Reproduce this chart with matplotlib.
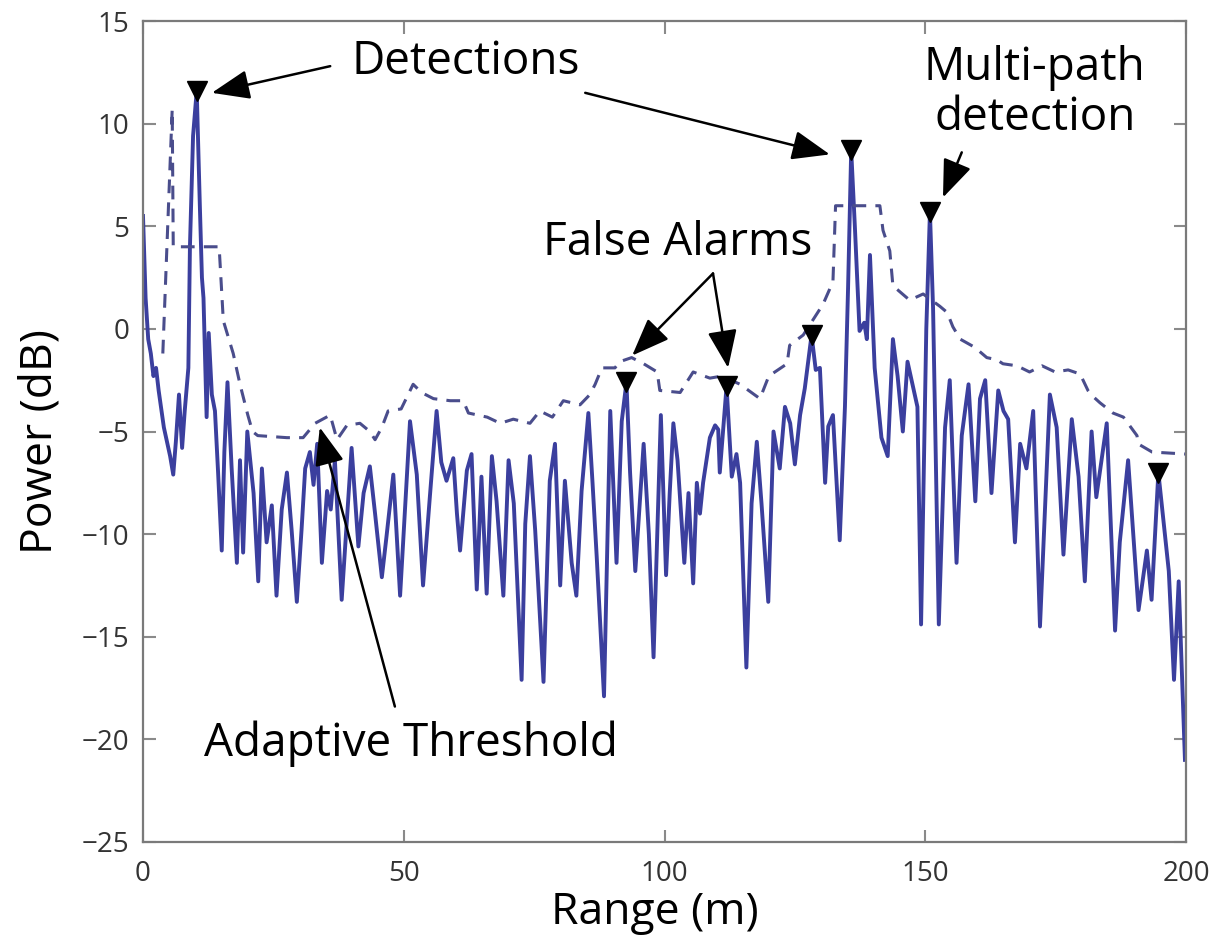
import matplotlib
matplotlib.use("Agg")
import matplotlib.pyplot as plt

# power profile (range in m, power in dB)
range_m = [0.0, 0.5, 1.0, 1.5, 2.0, 2.5, 3.0, 4.0, 5.2, 5.8, 6.3, 6.9, 7.5, 8.0,
           8.7, 9.0, 9.6, 10.3, 10.9, 11.3, 11.6, 12.2, 12.6, 13.2, 13.8, 14.4,
           15.1, 15.6, 16.2, 17.0, 18.0, 18.6, 19.2, 20.0, 20.6, 21.2, 22.1,
           22.8, 23.7, 24.7, 25.6, 26.6, 27.6, 28.5, 29.5, 30.4, 31.1, 32.0,
           32.7, 33.4, 34.3, 35.3, 36.0, 36.8, 38.1, 40.0, 41.3, 42.3, 43.5,
           44.5, 45.8, 46.7, 48.0, 49.3, 51.2, 52.5, 53.7, 55.0, 56.3, 57.2,
           58.2, 59.5, 60.2, 60.8, 62.1, 63.0, 64.0, 64.9, 65.9, 66.9, 67.8,
           69.1, 70.1, 71.1, 72.6, 73.3, 74.2, 75.2, 76.8, 78.0, 79.0, 80.0,
           80.9, 82.2, 83.1, 84.1, 85.4, 86.2, 87.0, 88.4, 89.6, 90.8, 91.8,
           92.7, 93.4, 94.4, 96.0, 97.0, 97.9, 99.3, 100.3, 101.0, 101.7,
           102.5, 103.8, 104.6, 105.5, 106.2, 106.8, 107.4, 108.7, 109.7,
           110.3, 110.6, 111.9, 112.9, 113.8, 114.5, 115.7, 116.7, 117.7,
           118.6, 119.9, 120.9, 122.1, 123.1, 124.1, 125.0, 126.0, 126.9,
           128.2, 129.0, 129.8, 130.8, 131.4, 132.3, 133.6, 134.6, 135.2,
           135.8, 136.5, 137.4, 138.3, 138.8, 139.4, 140.3, 141.6, 142.8,
           143.8, 144.7, 145.7, 146.6, 147.9, 148.5, 149.2, 150.2, 150.9,
           151.5, 152.6, 153.8, 154.7, 156.0, 157.0, 158.3, 159.6, 160.5,
           161.5, 162.7, 164.0, 165.0, 165.9, 167.2, 168.2, 169.4, 170.7,
           172.0, 173.9, 175.2, 176.5, 178.1, 179.4, 180.6, 181.9, 182.8,
           184.8, 186.4, 187.3, 188.9, 190.9, 192.5, 193.4, 194.7, 196.7,
           197.7, 198.6, 199.8]
power_db = [5.5, 1.5, -0.5, -1.2, -2.3, -1.9, -3.0, -4.8, -6.2, -7.1, -5.5, -3.2,
            -5.8, -4.0, -1.9, 4.0, 9.4, 11.6, 6.0, 2.5, 1.5, -4.3, -0.2, -3.2,
            -4.0, -7.0, -10.8, -6.0, -2.6, -6.8, -11.4, -6.4, -10.9, -5.0, -6.5,
            -8.0, -12.3, -6.8, -10.4, -8.6, -13.0, -8.8, -7.0, -9.8, -13.3, -9.8,
            -6.8, -6.0, -7.6, -5.6, -11.4, -7.9, -8.8, -6.4, -13.2, -5.8, -10.6,
            -8.0, -6.7, -9.0, -12.1, -10.1, -7.1, -13.0, -4.5, -7.1, -12.5, -8.2,
            -4.0, -6.5, -7.4, -6.3, -9.0, -10.8, -6.9, -6.1, -12.7, -7.2, -12.9,
            -6.2, -8.4, -13.0, -6.4, -8.5, -17.1, -9.5, -6.2, -9.8, -17.2, -7.4,
            -5.6, -12.5, -7.4, -11.4, -13.0, -7.9, -4.1, -7.5, -11.1, -17.9,
            -4.0, -11.4, -4.5, -2.6, -7.0, -11.8, -5.6, -10.0, -16.0, -4.2,
            -12.0, -8.0, -4.6, -6.4, -11.4, -8.0, -12.4, -7.5, -9.0, -7.5, -5.3,
            -4.7, -4.9, -7.0, -2.8, -7.2, -6.1, -7.5, -16.5, -8.5, -5.5, -8.5,
            -13.3, -5.0, -6.8, -3.8, -4.6, -6.6, -4.2, -2.9, -0.3, -2.0, -1.9,
            -7.5, -4.75, -4.2, -10.3, -3.8, 2.0, 8.7, 5.0, -0.1, 0.3, -0.5, 3.6,
            -1.9, -5.3, -6.2, -0.5, -2.3, -5.0, -1.6, -3.1, -3.8, -14.4, 0.0,
            5.7, 1.0, -14.4, -4.8, -2.5, -11.4, -5.2, -2.7, -8.4, -3.4, -2.5,
            -8.0, -3.0, -4.0, -4.4, -10.4, -5.6, -6.8, -4.0, -14.5, -3.2, -4.8,
            -11.0, -4.4, -7.2, -12.3, -5.0, -8.2, -4.6, -14.7, -10.4, -6.4,
            -13.7, -10.8, -13.2, -7.0, -11.8, -17.1, -12.3, -21.0]

# adaptive (CFAR) threshold
thr_range = [3.8, 5.6, 5.8, 14.6, 15.4, 17.3, 18.6, 20.1, 21.0, 22.0, 27.6, 30.7,
             33.0, 35.9, 37.2, 39.1, 41.6, 43.5, 44.5, 45.8, 47.0, 49.5, 51.8,
             53.4, 55.7, 58.9, 61.4, 62.4, 66.0, 68.5, 71.0, 74.2, 76.1, 78.5,
             80.6, 83.8, 85.7, 86.7, 88.0, 90.5, 91.4, 93.7, 96.0, 98.6, 99.1,
             103.0, 105.5, 108.7, 111.0, 114.5, 118.3, 120.0, 123.5, 124.0,
             126.6, 130.4, 132.3, 132.8, 141.3, 141.9, 143.2, 143.8, 147.0,
             149.6, 152.8, 154.2, 155.3, 156.7, 159.5, 161.8, 163.7, 164.9,
             167.6, 170.0, 172.4, 174.9, 177.4, 179.7, 181.2, 182.2, 183.5,
             186.0, 188.0, 190.6, 190.8, 193.5, 200.0]
thr_db = [-1.2, 10.7, 4.0, 4.0, 0.4, -1.2, -2.7, -4.2, -5.0, -5.2, -5.3, -5.3,
          -4.6, -4.2, -5.4, -4.7, -4.6, -5.0, -5.4, -4.8, -4.0, -3.9, -2.7, -3.1,
          -3.4, -3.5, -3.5, -4.1, -4.3, -4.6, -4.4, -4.6, -4.0, -4.3, -3.5, -3.7,
          -3.2, -2.7, -1.9, -1.9, -1.6, -1.4, -1.7, -2.1, -3.0, -3.1, -2.1, -2.4,
          -2.3, -2.7, -3.4, -2.3, -1.7, -0.8, -0.3, 1.2, 2.3, 6.0, 6.0, 4.8, 3.8,
          2.1, 1.4, 1.7, 1.1, 0.8, 0.1, -0.5, -0.9, -1.4, -1.5, -1.7, -1.8, -2.1,
          -1.8, -2.1, -2.0, -2.2, -3.0, -3.3, -3.6, -4.1, -4.3, -5.2, -5.6, -6.0,
          -6.1]

# detected targets
det_range = [10.3, 92.7, 111.9, 128.2, 135.8, 150.9, 194.7]
det_db = [11.6, -2.6, -2.8, -0.3, 8.7, 5.7, -7.0]

plt.rcParams["font.family"] = ["Open Sans", "DejaVu Sans"]

fig = plt.figure(figsize=(12.22, 9.4), dpi=100)
ax = fig.add_axes([143 / 1222, 1 - 842 / 940, 1043 / 1222, 821 / 940])

ax.plot(range_m, power_db, color="#3b3f9e", lw=2.8)
ax.plot(thr_range, thr_db, color="#4a4d8c", lw=2.2, dashes=(4.5, 3))
ax.plot(det_range, det_db, "v", color="k", ms=14, zorder=5)

ax.set_xlim(0, 200)
ax.set_ylim(-25, 15)
ax.set_xticks(range(0, 201, 50))
ax.set_yticks(range(-25, 16, 5))
ax.tick_params(direction="in", length=9, width=1.5, color="#8a8a8a",
               labelsize=20, labelcolor="#333333", top=True, right=True, pad=10)
ax.tick_params(axis="x", pad=13)
for sp in ax.spines.values():
    sp.set_color("#7a7a7a")
    sp.set_linewidth(1.6)

fig.text(40 / 1222, 1 - 442 / 940, "Power (dB)", rotation=90, ha="center",
         va="center", fontsize=32)
fig.text(655 / 1222, 1 - 924 / 940, "Range (m)", ha="center", va="baseline",
         fontsize=32)

# annotations
arrow = dict(arrowstyle="-|>,head_length=0.9,head_width=0.35", color="k",
             lw=1.8, shrinkA=0, shrinkB=0, mutation_scale=26)
ax.text(61.9, 13.0, "Detections", fontsize=33, ha="center", va="center")
ax.annotate("", xy=(13.2, 11.5), xytext=(35.9, 12.8), arrowprops=arrow)
ax.annotate("", xy=(131.7, 8.5), xytext=(84.8, 11.5), arrowprops=arrow)

ax.text(171.0, 11.5, "Multi-path\ndetection", fontsize=33, ha="center",
        va="center", linespacing=1.1)
ax.annotate("", xy=(153.4, 6.4), xytext=(157.0, 8.6), arrowprops=arrow)

ax.text(102.6, 4.2, "False Alarms", fontsize=33, ha="center", va="center")
ax.annotate("", xy=(93.8, -1.3), xytext=(109.3, 2.7), arrowprops=arrow)
ax.annotate("", xy=(112.2, -1.9), xytext=(109.3, 2.7), arrowprops=arrow)

ax.text(51.4, -20.2, "Adaptive Threshold", fontsize=33, ha="center",
        va="center")
ax.annotate("", xy=(33.9, -4.8), xytext=(48.3, -18.4), arrowprops=arrow)

fig.savefig("out.png", dpi=100)
